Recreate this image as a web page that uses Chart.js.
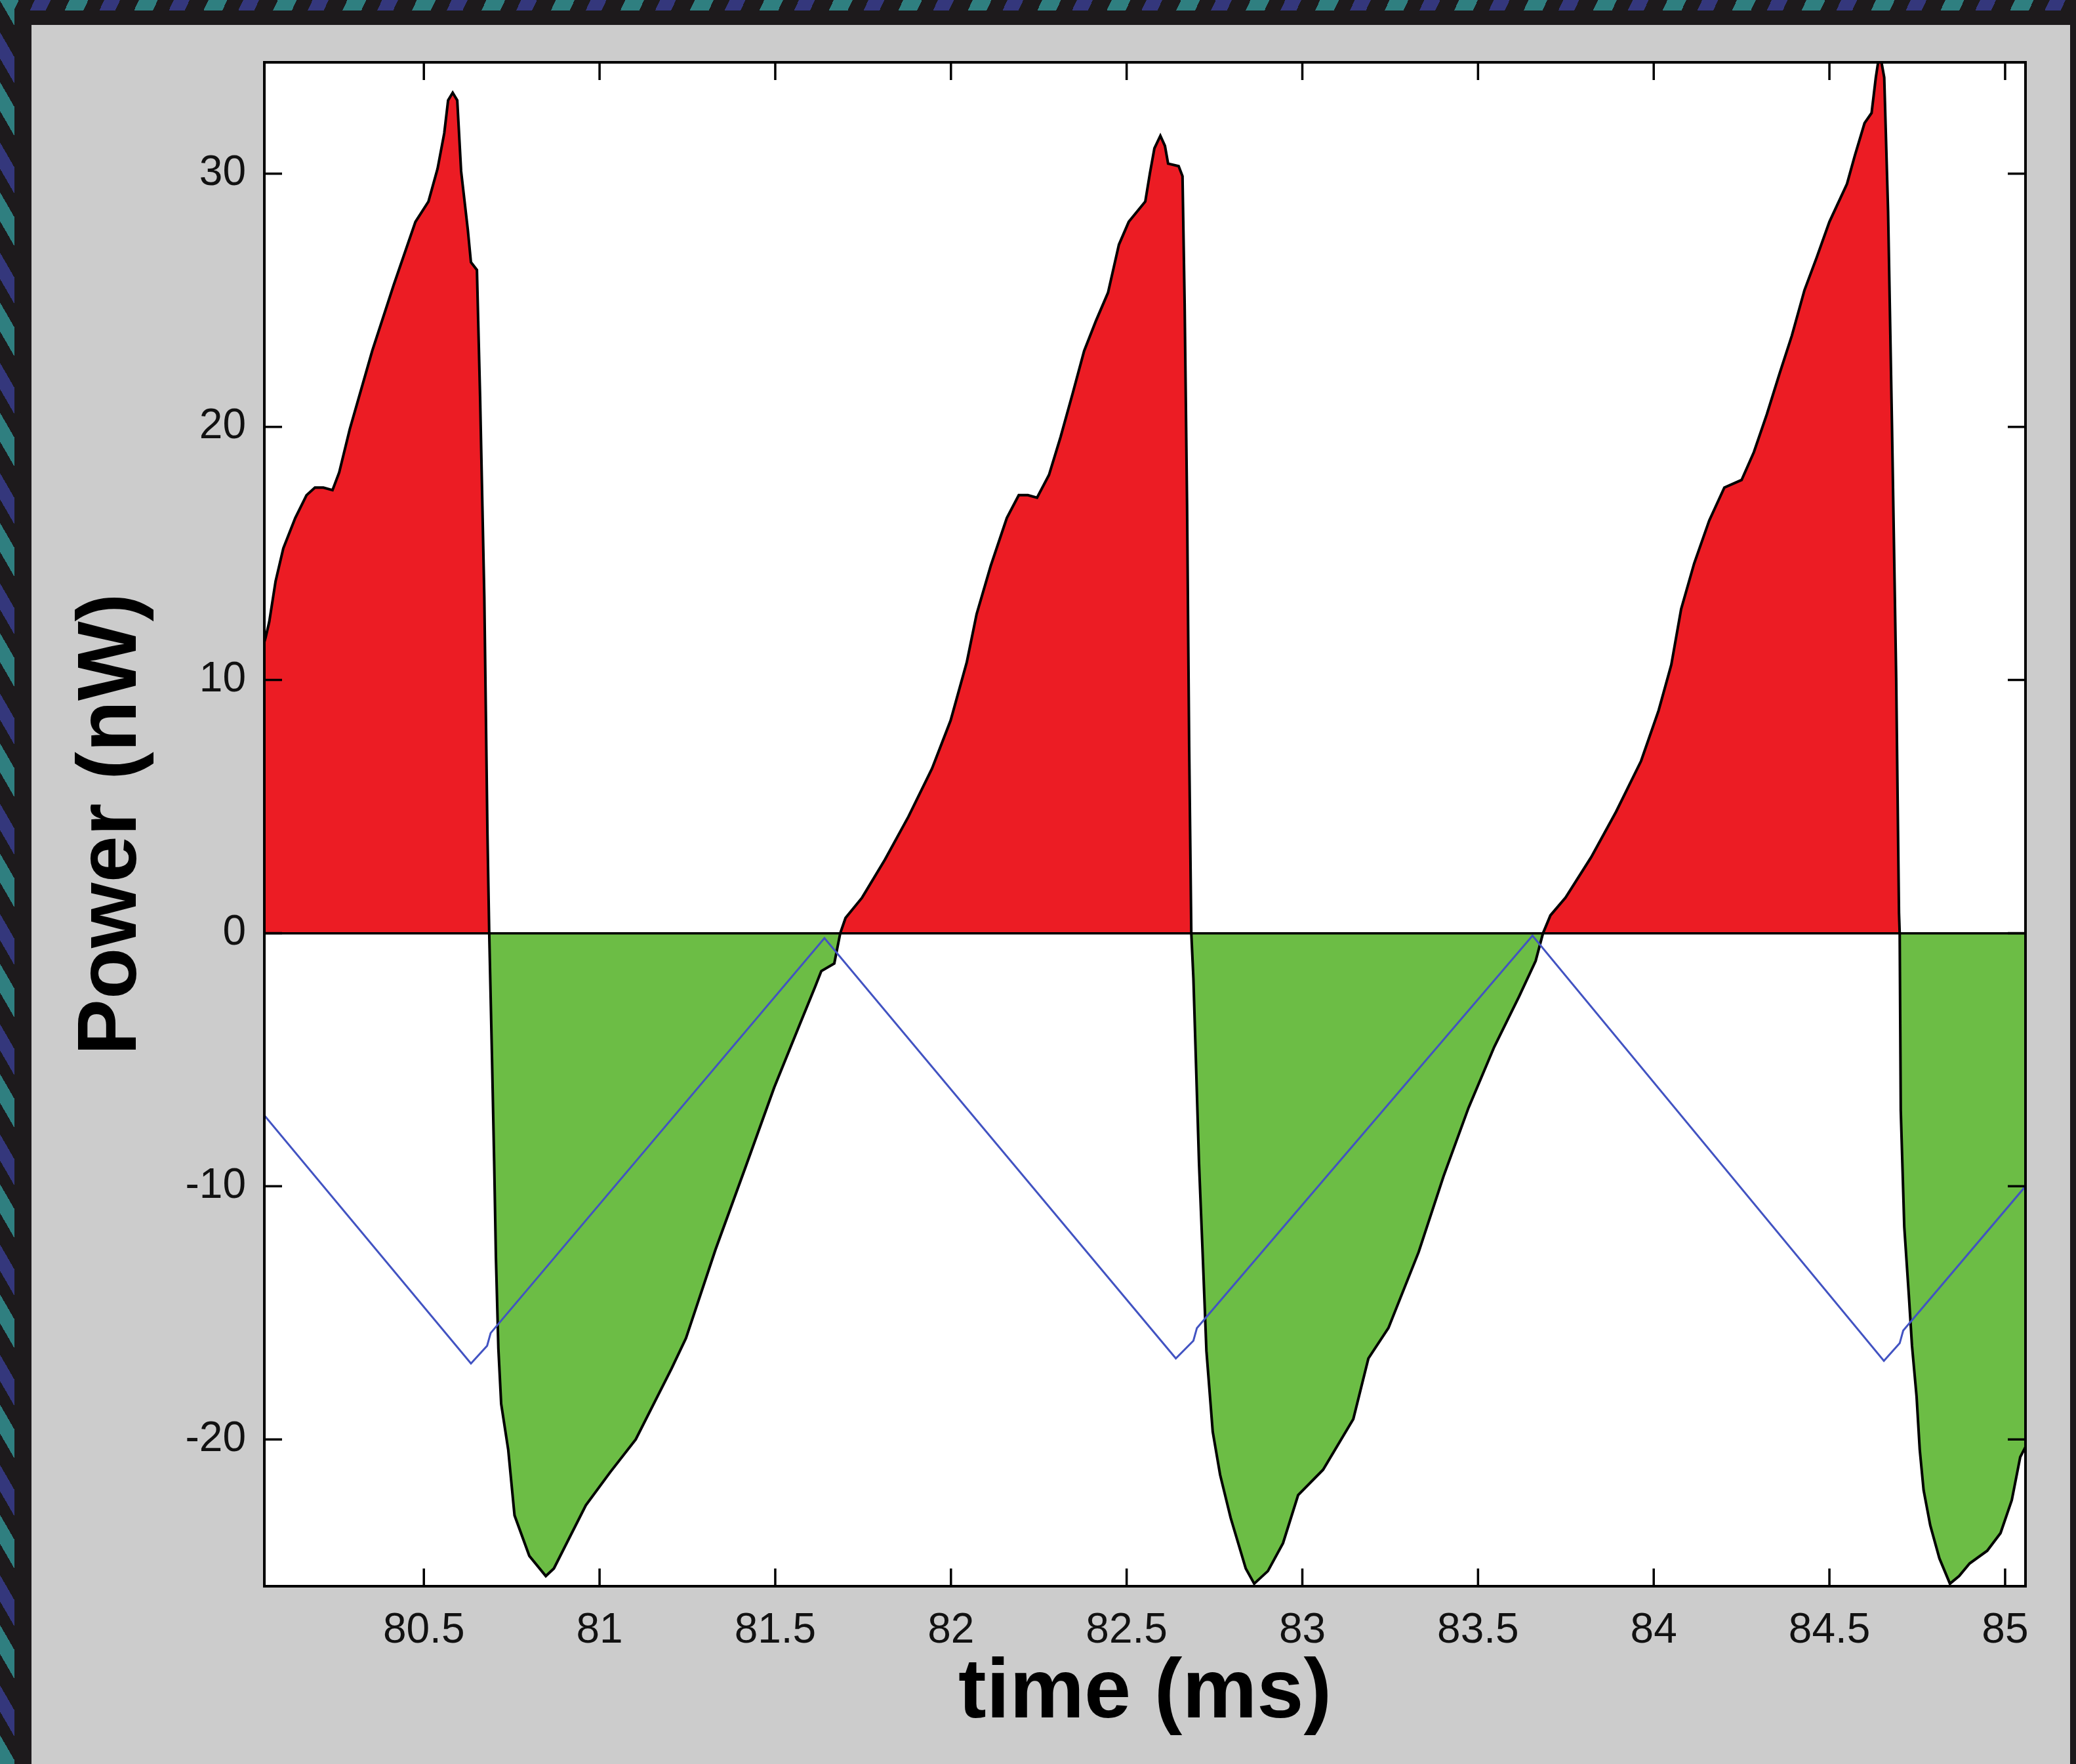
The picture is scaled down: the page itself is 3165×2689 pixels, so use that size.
<!DOCTYPE html>
<html>
<head>
<meta charset="utf-8">
<title>Power (nW) vs time (ms)</title>
<script src="https://cdn.jsdelivr.net/npm/chart.js@4.4.1/dist/chart.umd.min.js"></script>
<style>
  html, body {
    margin: 0;
    width: 3165px;
    height: 2689px;
    overflow: hidden;
    background: #1d1a1c;
  }
  #stripeTop {
    position: absolute; left: 0; top: 0; width: 3165px; height: 16px;
    background: repeating-linear-gradient(115deg, #2f7f80 0 26px, #1d1a1c 26px 48px, #34377c 48px 70px, #1d1a1c 70px 96px);
  }
  #stripeLeft {
    position: absolute; left: 0; top: 0; width: 22px; height: 2689px;
    background: repeating-linear-gradient(60deg, #2f7f80 0 22px, #1d1a1c 22px 40px, #34377c 40px 60px, #1d1a1c 60px 84px);
  }
  #panel {
    position: absolute; left: 48px; top: 38px;
    width: 3108px; height: 2651px;
    background: #cccccc;
  }
</style>
</head>
<body>
<div id="stripeTop"></div>
<div id="stripeLeft"></div>
<div id="panel"><canvas id="chart" width="3108" height="2651"></canvas></div>
<script>
// measured power trace (time in ms, power in nW)
const powerTime = [
  80.046, 80.050, 80.060, 80.078, 80.100, 80.134, 80.166, 80.190, 80.214, 80.240,
  80.259, 80.289, 80.353, 80.414, 80.476, 80.513, 80.539, 80.558, 80.569, 80.582,
  80.595, 80.606, 80.625, 80.634, 80.651, 80.660, 80.672, 80.681, 80.686,
  80.694, 80.700, 80.705, 80.712, 80.720, 80.740, 80.758, 80.800, 80.847, 80.870,
  80.961, 81.030, 81.103, 81.205, 81.246, 81.330, 81.414, 81.497, 81.570, 81.614,
  81.631, 81.668, 81.685,
  81.700, 81.747, 81.812, 81.879, 81.946, 81.999, 82.045, 82.073, 82.113, 82.159,
  82.193, 82.219, 82.245, 82.279, 82.312, 82.346, 82.379, 82.413, 82.447, 82.478,
  82.506, 82.553, 82.566, 82.579, 82.596, 82.609, 82.618, 82.648, 82.659, 82.665,
  82.672, 82.678, 82.684,
  82.690, 82.706, 82.717, 82.727, 82.745, 82.766, 82.796, 82.839, 82.863, 82.902,
  82.945, 82.988, 83.059, 83.145, 83.188, 83.245, 83.331, 83.402, 83.473, 83.546,
  83.617, 83.664, 83.685,
  83.706, 83.749, 83.822, 83.893, 83.964, 84.014, 84.050, 84.078, 84.115, 84.158,
  84.201, 84.250, 84.285, 84.322, 84.358, 84.393, 84.429, 84.464, 84.500, 84.550,
  84.572, 84.600, 84.620, 84.632, 84.643, 84.656, 84.667, 84.678, 84.690, 84.698,
  84.700,
  84.703, 84.713, 84.726, 84.735, 84.748, 84.757, 84.768, 84.787, 84.813, 84.843,
  84.869, 84.899, 84.949, 84.987, 85.019, 85.043, 85.058
];
const powerValue = [
  11.5, 11.7, 12.3, 13.9, 15.2, 16.4, 17.3, 17.6, 17.6, 17.5,
  18.2, 19.9, 23.0, 25.6, 28.1, 28.9, 30.2, 31.6, 32.9, 33.2,
  32.9, 30.1, 27.8, 26.5, 26.2, 21.2, 13.3, 3.9, 0,
  -5.0, -9.0, -12.8, -16.4, -18.6, -20.4, -23.0, -24.6, -25.4, -25.1,
  -22.6, -21.3, -20.0, -17.2, -16.0, -12.5, -9.3, -6.1, -3.6, -2.1,
  -1.5, -1.2, 0,
  0.6, 1.4, 2.9, 4.6, 6.5, 8.4, 10.7, 12.6, 14.5, 16.4,
  17.3, 17.3, 17.2, 18.1, 19.6, 21.3, 23.0, 24.2, 25.3, 27.2,
  28.1, 28.9, 30.0, 31.0, 31.5, 31.1, 30.4, 30.3, 29.9, 24.9,
  16.9, 7.3, 0,
  -1.8, -9.1, -12.9, -16.5, -19.7, -21.4, -23.1, -25.1, -25.7, -25.2,
  -24.1, -22.2, -21.2, -19.2, -16.8, -15.6, -12.6, -9.6, -6.9, -4.5,
  -2.5, -1.1, 0,
  0.7, 1.4, 3.0, 4.8, 6.8, 8.8, 10.6, 12.8, 14.6, 16.3,
  17.6, 17.9, 19.0, 20.5, 22.1, 23.6, 25.4, 26.7, 28.1, 29.6,
  30.7, 32.0, 32.4, 33.8, 34.8, 33.8, 28.5, 20.1, 10.1, 0.8,
  0,
  -7.0, -11.6, -14.3, -16.3, -18.3, -20.4, -22.0, -23.4, -24.7, -25.7,
  -25.4, -24.9, -24.4, -23.7, -22.4, -20.7, -20.3
];

// triangular reference trace (blue)
const sweepTime = [80.046, 80.634, 80.680, 80.690, 81.640, 82.640, 82.690, 82.700,
                   83.655, 84.655, 84.700, 84.710, 85.058];
const sweepValue = [-7.2, -17.0, -16.3, -15.8, -0.2, -16.8, -16.1, -15.6,
                    -0.1, -16.9, -16.2, -15.7, -10.0];

const xTicks = [80.5, 81, 81.5, 82, 82.5, 83, 83.5, 84, 84.5, 85];
const yTicks = [-20, -10, 0, 10, 20, 30];

const TICK_LEN = 27;

// inward ticks on all four sides plus the box, like the original plot
const frameTicks = {
  id: "frameTicks",
  afterDraw(chart) {
    const ctx = chart.ctx;
    const a = chart.chartArea;
    const x = chart.scales.x;
    const y = chart.scales.y;
    ctx.save();
    ctx.strokeStyle = "#000";
    ctx.lineWidth = 3.5;
    ctx.beginPath();
    xTicks.forEach((v) => {
      const px = x.getPixelForValue(v);
      ctx.moveTo(px, a.bottom);
      ctx.lineTo(px, a.bottom - TICK_LEN);
      ctx.moveTo(px, a.top);
      ctx.lineTo(px, a.top + TICK_LEN);
    });
    yTicks.forEach((v) => {
      const py = y.getPixelForValue(v);
      ctx.moveTo(a.left, py);
      ctx.lineTo(a.left + TICK_LEN, py);
      ctx.moveTo(a.right, py);
      ctx.lineTo(a.right - TICK_LEN, py);
    });
    ctx.stroke();
    ctx.lineWidth = 4;
    ctx.strokeRect(a.left, a.top, a.right - a.left, a.bottom - a.top);
    ctx.restore();
  },
};

const plotBg = {
  id: "plotBg",
  beforeDraw(chart) {
    const ctx = chart.ctx;
    const a = chart.chartArea;
    ctx.save();
    ctx.fillStyle = "#ffffff";
    ctx.fillRect(a.left, a.top, a.right - a.left, a.bottom - a.top);
    ctx.restore();
  },
};

const tickFont = { family: "'Liberation Sans', Arial, sans-serif", size: 64 };
const titleFont = { family: "'Liberation Sans', Arial, sans-serif", size: 128, weight: "bold", lineHeight: 1 };

const ctx = document.getElementById("chart").getContext("2d");
const chart = new Chart(ctx, {
  type: "line",
  data: {
    datasets: [
      {
        label: "sweep",
        data: sweepTime.map((t, i) => ({ x: t, y: sweepValue[i] })),
        borderColor: "#4253c2",
        borderWidth: 3,
        pointRadius: 0,
        fill: false,
        tension: 0,
        order: 0,
      },
      {
        label: "power",
        data: powerTime.map((t, i) => ({ x: t, y: powerValue[i] })),
        borderColor: "#000000",
        borderWidth: 4,
        pointRadius: 0,
        tension: 0,
        fill: { target: { value: 0 }, above: "#ec1c24", below: "#6cbd45" },
        order: 1,
      },
    ],
  },
  options: {
    responsive: false,
    animation: false,
    devicePixelRatio: 1,
    layout: { padding: { left: 0, top: 57, right: 68, bottom: 0 } },
    plugins: {
      legend: { display: false },
      tooltip: { enabled: false },
    },
    scales: {
      x: {
        type: "linear",
        min: 80.046,
        max: 85.058,
        afterBuildTicks: (s) => { s.ticks = xTicks.map((v) => ({ value: v })); },
        afterFit: (s) => { s.height = 271; },
        grid: { display: false, drawTicks: false },
        border: { display: false },
        ticks: {
          color: "#111",
          font: tickFont,
          padding: 30,
          maxRotation: 0,
          autoSkip: false,
          callback: (v) => String(v),
        },
        title: {
          display: true,
          text: "time (ms)",
          color: "#000",
          font: titleFont,
          padding: { top: 0, bottom: 42 },
        },
      },
      y: {
        type: "linear",
        min: -25.8,
        max: 34.4,
        afterBuildTicks: (s) => { s.ticks = yTicks.map((v) => ({ value: v })); },
        afterFit: (s) => {
          s.width = 355;
          s.paddingTop = 0;
          s.paddingBottom = 0;
        },
        grid: {
          drawTicks: false,
          z: 1,
          lineWidth: 3.5,
          color: (c) => (c.tick && c.tick.value === 0 ? "#000000" : "rgba(0,0,0,0)"),
        },
        border: { display: false },
        ticks: {
          color: "#111",
          font: tickFont,
          padding: 28,
          autoSkip: false,
          callback: (v) => String(v),
        },
        title: {
          display: true,
          text: "Power (nW)",
          color: "#000",
          font: titleFont,
          padding: { top: 60, bottom: 0 },
        },
      },
    },
  },
  plugins: [plotBg, frameTicks],
});
</script>
</body>
</html>
